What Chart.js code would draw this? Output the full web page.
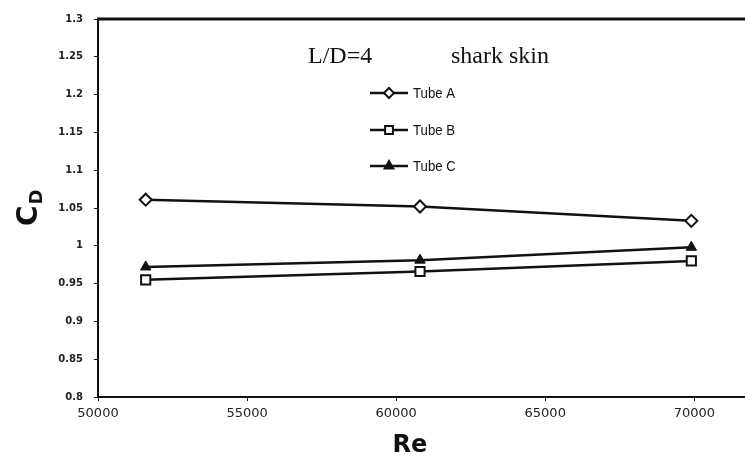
<!DOCTYPE html>
<html>
<head>
<meta charset="utf-8">
<script src="https://cdn.jsdelivr.net/npm/chart.js@4"></script>
<style>
    html, body { margin: 0; padding: 0; background: #fff; }
    #wrap { width: 745px; height: 468px; }
</style>
</head>
<body>
<div id="wrap"><canvas id="cdChart" width="745" height="468"></canvas></div>
<script>
// Re values and drag coefficients
const reValues = [51600, 60800, 69900];
const tubeA = [1.061, 1.052, 1.033];
const tubeB = [0.955, 0.966, 0.980];
const tubeC = [0.972, 0.981, 0.998];
const seriesNames = ['Tube A', 'Tube B', 'Tube C'];
const xTicks = [50000, 55000, 60000, 65000, 70000];
const yTicks = [0.8, 0.85, 0.9, 0.95, 1, 1.05, 1.1, 1.15, 1.2, 1.25, 1.3];

const toPoints = (vals) => vals.map((v, i) => ({ x: reValues[i], y: v }));

// Top frame line, axis titles, annotation and legend
const extras = {
    id: 'extras',
    afterDraw(chart) {
        const ctx = chart.ctx;
        const area = chart.chartArea;
        ctx.save();
        ctx.strokeStyle = '#111';
        ctx.lineWidth = 3;
        ctx.beginPath();
        ctx.moveTo(area.left - 1, area.top);
        ctx.lineTo(area.right, area.top);
        ctx.stroke();

        ctx.fillStyle = '#111';
        ctx.textBaseline = 'alphabetic';
        ctx.textAlign = 'center';
        ctx.font = 'bold 24px "DejaVu Sans"';
        ctx.fillText('Re', 410, 452);

        // C with subscript D, rotated
        ctx.save();
        ctx.translate(37, 226);
        ctx.rotate(-Math.PI / 2);
        ctx.textAlign = 'left';
        ctx.font = 'bold 28px "DejaVu Sans"';
        ctx.fillText('C', 0, 0);
        const cw = ctx.measureText('C').width;
        ctx.font = 'bold 18px "DejaVu Sans"';
        ctx.fillText('D', cw + 1, 5);
        ctx.restore();

        ctx.textAlign = 'left';
        ctx.font = '24px "Liberation Serif"';
        ctx.fillText('L/D=4', 308, 63);
        ctx.fillText('shark skin', 451, 63);

        const legendY = [93, 130, 166];
        chart.data.datasets.forEach((ds, i) => {
            const y = legendY[i];
            ctx.strokeStyle = '#111';
            ctx.lineWidth = 2.5;
            ctx.beginPath();
            ctx.moveTo(370, y);
            ctx.lineTo(408, y);
            ctx.stroke();
            ctx.fillStyle = ds.pointBackgroundColor;
            ctx.strokeStyle = '#111';
            ctx.lineWidth = 2;
            Chart.helpers.drawPoint(ctx, {
                pointStyle: ds.pointStyle,
                radius: ds.pointRadius - 1,
                rotation: 0,
                borderWidth: 2
            }, 389, y);
            ctx.save();
            ctx.translate(413, y + 5);
            ctx.scale(0.88, 1);
            ctx.fillStyle = '#111';
            ctx.font = '15px "Liberation Sans"';
            ctx.fillText(seriesNames[i], 0, 0);
            ctx.restore();
        });
        ctx.restore();
    }
};

const baseSet = {
    borderColor: '#111',
    borderWidth: 2.5,
    pointBorderColor: '#111',
    pointBorderWidth: 2,
    tension: 0
};

const config = {
    type: 'line',
    data: {
        datasets: [
            { ...baseSet, label: seriesNames[0], data: toPoints(tubeA), pointStyle: 'rectRot', pointRadius: 6, pointBackgroundColor: '#fff' },
            { ...baseSet, label: seriesNames[1], data: toPoints(tubeB), pointStyle: 'rect', pointRadius: 6.5, pointBackgroundColor: '#fff' },
            { ...baseSet, label: seriesNames[2], data: toPoints(tubeC), pointStyle: 'triangle', pointRadius: 6, pointBackgroundColor: '#111', pointBorderWidth: 1 }
        ]
    },
    options: {
        responsive: false,
        animation: false,
        layout: { autoPadding: false, padding: { top: 19, right: 0, bottom: 0, left: 0 } },
        plugins: {
            legend: { display: false },
            tooltip: { enabled: false }
        },
        scales: {
            x: {
                type: 'linear',
                min: 50000,
                max: 71700,
                afterBuildTicks: (scale) => {
                    scale.ticks = xTicks.map((v) => ({ value: v }));
                },
                afterFit: (scale) => {
                    scale.height = 71;
                    scale.paddingLeft = 0;
                    scale.paddingRight = 0;
                },
                grid: { drawOnChartArea: false, drawTicks: true, tickLength: 4, color: '#111' },
                border: { color: '#111', width: 2 },
                ticks: {
                    color: '#222',
                    padding: 5,
                    maxRotation: 0,
                    font: { family: 'DejaVu Sans', size: 13 },
                    callback: (v) => String(v)
                }
            },
            y: {
                min: 0.8,
                max: 1.3,
                afterBuildTicks: (scale) => {
                    scale.ticks = yTicks.map((v) => ({ value: v }));
                },
                afterFit: (scale) => {
                    scale.width = 98;
                    scale.paddingTop = 0;
                    scale.paddingBottom = 0;
                },
                grid: { drawOnChartArea: false, drawTicks: true, tickLength: 4, color: '#111' },
                border: { color: '#111', width: 2 },
                ticks: {
                    color: '#222',
                    padding: 11,
                    font: { family: 'DejaVu Sans', size: 10, weight: 'bold' },
                    callback: (v) => String(Number(v.toFixed(2)))
                }
            }
        }
    },
    plugins: [extras]
};

const ctx = document.getElementById('cdChart').getContext('2d');
new Chart(ctx, config);
</script>
</body>
</html>
